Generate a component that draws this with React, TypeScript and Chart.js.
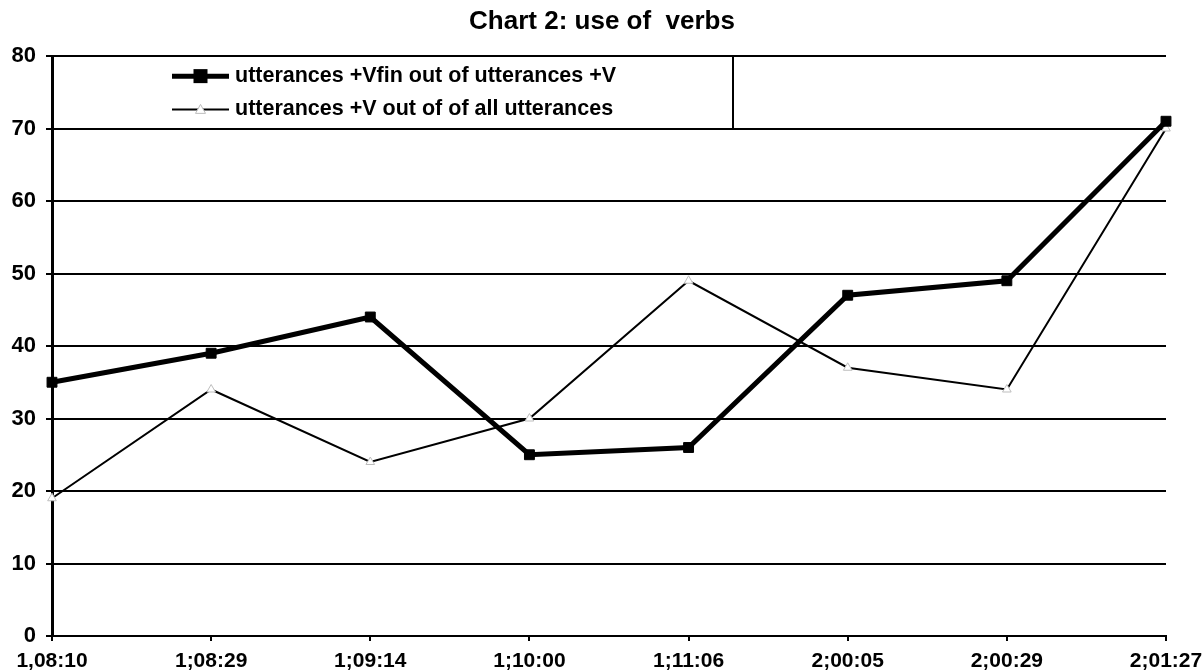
import React, { useEffect, useRef } from "react";
import { Chart, registerables } from "chart.js";

Chart.register(...registerables);

const categories = ["1,08:10", "1;08:29", "1;09:14", "1;10:00", "1;11:06", "2;00:05", "2;00:29", "2;01:27"];
const vfinValues = [35, 39, 44, 25, 26, 47, 49, 71];
const verbValues = [19, 34, 24, 30, 49, 37, 34, 70];
const seriesLabels = ["utterances +Vfin out of utterances +V", "utterances +V out of of all utterances"];
const titleText = "Chart 2: use of  verbs";
const yMin = 0;
const yMax = 80;
const yStep = 10;

const FONT = "'Liberation Sans', Arial, sans-serif";

const legendBoxPlugin = {
  id: "legendBox",
  afterDatasetsDraw(chart: any) {
    const { ctx, chartArea, scales } = chart;
    const y = scales.y;
    const left = chartArea.left;
    const top = y.getPixelForValue(yMax);
    const bottom = y.getPixelForValue(yMax - yStep);
    const right = left + 681;
    ctx.save();
    ctx.fillStyle = "#fff";
    ctx.fillRect(left + 2, top + 1, right - left - 2, bottom - top - 2);
    ctx.strokeStyle = "#000";
    ctx.lineWidth = 2;
    ctx.beginPath();
    ctx.moveTo(right, top);
    ctx.lineTo(right, bottom);
    ctx.stroke();
    const rowH = (bottom - top) / 2;
    chart.data.datasets.forEach((ds: any, i: number) => {
      const cy = top + rowH * (i + 0.5) + (i === 0 ? 2 : -1);
      const x0 = left + 120;
      const x1 = left + 177;
      const mx = (x0 + x1) / 2;
      ctx.strokeStyle = ds.borderColor;
      ctx.lineWidth = ds.borderWidth;
      ctx.beginPath();
      ctx.moveTo(x0, cy);
      ctx.lineTo(x1, cy);
      ctx.stroke();
      const r = ds.pointRadius;
      if (ds.pointStyle === "rect") {
        ctx.fillStyle = ds.pointBackgroundColor;
        ctx.fillRect(mx - r, cy - r, 2 * r, 2 * r);
      } else {
        ctx.fillStyle = ds.pointBackgroundColor;
        ctx.strokeStyle = ds.pointBorderColor;
        ctx.lineWidth = 1;
        ctx.beginPath();
        ctx.moveTo(mx, cy - r);
        ctx.lineTo(mx + r, cy + r * 0.8);
        ctx.lineTo(mx - r, cy + r * 0.8);
        ctx.closePath();
        ctx.fill();
        ctx.stroke();
      }
      ctx.fillStyle = "#000";
      ctx.font = `bold 21.5px ${FONT}`;
      ctx.textBaseline = "middle";
      ctx.textAlign = "left";
      ctx.fillText(ds.label, x1 + 6, cy);
    });
    ctx.restore();
  },
};

export default function App() {
  const canvasRef = useRef<HTMLCanvasElement | null>(null);

  useEffect(() => {
    const canvas = canvasRef.current;
    if (!canvas) return;
    const chart = new Chart(canvas, {
      type: "line",
      data: {
        labels: categories,
        datasets: [
          {
            label: seriesLabels[0],
            data: vfinValues,
            borderColor: "#000",
            borderWidth: 5,
            pointStyle: "rect",
            pointRadius: 7,
            pointBackgroundColor: "#000",
            pointBorderColor: "#000",
            pointBorderWidth: 1,
            tension: 0,
            clip: false,
          } as any,
          {
            label: seriesLabels[1],
            data: verbValues,
            borderColor: "#000",
            borderWidth: 2,
            pointStyle: "triangle",
            pointRadius: 5,
            pointBackgroundColor: "#fff",
            pointBorderColor: "#bdbdbd",
            pointBorderWidth: 1,
            tension: 0,
            clip: false,
          } as any,
        ],
      },
      options: {
        responsive: false,
        animation: false,
        devicePixelRatio: 1,
        layout: { padding: 0 },
        plugins: {
          legend: { display: false },
          tooltip: { enabled: false },
          title: {
            display: true,
            text: titleText,
            color: "#000",
            font: { family: FONT, size: 26, weight: "bold" },
            padding: { top: 6, bottom: 18.8 },
          },
        },
        scales: {
          x: {
            offset: false,
            grid: {
              display: true,
              drawOnChartArea: false,
              drawTicks: true,
              tickLength: 5,
              color: "#000",
              lineWidth: 2,
            },
            border: { display: true, color: "#000", width: 2 },
            ticks: {
              color: "#000",
              font: { family: FONT, size: 21, weight: "bold" },
              padding: 8,
              maxRotation: 0,
              autoSkip: false,
            },
            afterFit: (s: any) => {
              s.height = 36;
              s.paddingLeft = 0;
              s.paddingRight = 38;
            },
          },
          y: {
            min: yMin,
            max: yMax,
            grid: {
              color: "#000",
              lineWidth: 2,
              drawTicks: true,
              tickLength: 6,
            },
            border: { display: true, color: "#000", width: 3 },
            ticks: {
              stepSize: yStep,
              color: "#000",
              font: { family: FONT, size: 22, weight: "bold" },
              padding: 10,
            },
            afterFit: (s: any) => {
              s.width = 52;
            },
          },
        },
      } as any,
      plugins: [legendBoxPlugin],
    });
    return () => chart.destroy();
  }, []);

  return (
    <div style={{ position: "fixed", left: 0, top: 0, width: 1204, height: 672, background: "#fff" }}>
      <canvas ref={canvasRef} width={1204} height={672} />
    </div>
  );
}
